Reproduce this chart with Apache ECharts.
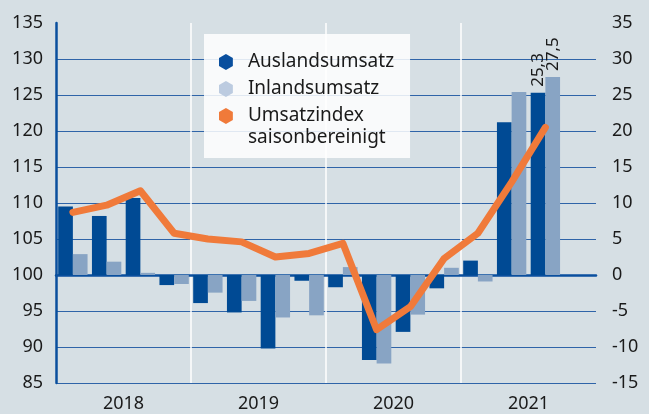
<!DOCTYPE html>
<html>
<head>
<meta charset="utf-8">
<script src="https://cdn.jsdelivr.net/npm/echarts@6/dist/echarts.min.js"></script>
<style>
  html, body { margin: 0; padding: 0; background: #d6dfe4; }
  #chart { width: 649px; height: 414px; }
</style>
</head>
<body>
<div id="chart"></div>
<script>
  // quarters 2018 Q1 .. 2021 Q4 (last slot empty)
  const quarters = ['Q1 2018', 'Q2 2018', 'Q3 2018', 'Q4 2018',
    'Q1 2019', 'Q2 2019', 'Q3 2019', 'Q4 2019',
    'Q1 2020', 'Q2 2020', 'Q3 2020', 'Q4 2020',
    'Q1 2021', 'Q2 2021', 'Q3 2021', 'Q4 2021']
  const years = ['2018', '2019', '2020', '2021']

  // Veraenderung zum Vorjahr in % (rechte Achse)
  const auslandsumsatz = [9.5, 8.2, 10.7, -1.4, -3.9, -5.2, -10.2, -0.8, -1.7, -11.8, -7.9, -1.85, 2.0, 21.2, 25.3]
  const inlandsumsatz = [2.9, 1.85, 0.3, -1.25, -2.45, -3.6, -5.9, -5.6, 1.1, -12.3, -5.5, 1.0, -0.9, 25.4, 27.5]
  // Index (linke Achse)
  const umsatzindex = [108.7, 109.7, 111.7, 105.8, 105.0, 104.6, 102.5, 103.0, 104.4, 92.4, 95.6, 102.3, 105.8, 112.9, 120.5]

  const labelled = [14] // bars with rotated value label

  const hexagon = 'path://M50,0 L93.3,25 L93.3,75 L50,100 L6.7,75 L6.7,25 Z'
  const font = 'Noto Sans'
  const textColor = '#1a1a1a'
  const gridBlue = '#2f64a8'

  function barData (values) {
    return values.map(function (v, i) {
      if (labelled.indexOf(i) < 0) return v
      return {
        value: v,
        label: {
          show: true,
          position: 'top',
          rotate: 90,
          align: 'left',
          verticalAlign: 'middle',
          distance: 6,
          fontFamily: font,
          fontSize: 17,
          color: textColor,
          formatter: function (p) { return String(p.value).replace('.', ',') }
        }
      }
    })
  }

  const chart = echarts.init(document.getElementById('chart'))
  chart.setOption({
    backgroundColor: '#d6dfe4',
    animation: false,
    textStyle: { fontFamily: font },
    grid: { left: 56, right: 53, top: 23, bottom: 31 },
    legend: {
      orient: 'vertical',
      left: 204,
      top: 34,
      padding: [17, 16, 31, 15],
      backgroundColor: 'rgba(255,255,255,0.85)',
      itemWidth: 34,
      itemHeight: 16,
      itemGap: 5,
      selectedMode: false,
      textStyle: { fontFamily: font, fontSize: 19, lineHeight: 22, color: textColor },
      data: [
        { name: 'Auslandsumsatz', icon: hexagon, itemStyle: { color: '#0a4f9e', borderWidth: 0 } },
        { name: 'Inlandsumsatz', icon: hexagon, itemStyle: { color: '#bccbe0', borderWidth: 0 } },
        { name: 'Umsatzindex', icon: hexagon, itemStyle: { color: '#f07a3a', borderWidth: 0 } }
      ]
    },
    graphic: [{
      type: 'text',
      x: 248,
      y: 138,
      z: 100,
      style: {
        text: 'saisonbereinigt',
        fontFamily: font,
        fontSize: 19,
        fill: textColor,
        verticalAlign: 'middle'
      }
    }],
    xAxis: [{
      type: 'category',
      data: quarters,
      position: 'bottom',
      axisLine: { show: true, lineStyle: { color: '#0a4f9e', width: 2.5 } },
      axisTick: { show: false },
      axisLabel: { show: false },
      splitLine: { show: false }
    }, {
      type: 'category',
      data: years,
      position: 'bottom',
      axisLine: { show: false },
      axisTick: { show: false },
      axisLabel: { fontFamily: font, fontSize: 18, color: textColor, margin: 12 },
      splitLine: {
        show: true,
        interval: 0,
        lineStyle: { color: ['rgba(0,0,0,0)', '#ffffff', '#ffffff', '#ffffff', 'rgba(0,0,0,0)'], width: 1.5 }
      }
    }],
    yAxis: [{
      type: 'value',
      min: 85,
      max: 135,
      interval: 5,
      position: 'left',
      axisLine: { show: true, lineStyle: { color: '#0a4f9e', width: 2.5 } },
      axisTick: { show: false },
      axisLabel: { fontFamily: font, fontSize: 18, color: textColor, margin: 13 },
      splitLine: {
        show: true,
        lineStyle: {
          color: [gridBlue, gridBlue, gridBlue, '#8eaacb', gridBlue, gridBlue, gridBlue, gridBlue, gridBlue, gridBlue, 'rgba(0,0,0,0)'],
          width: 1
        }
      }
    }, {
      type: 'value',
      min: -15,
      max: 35,
      interval: 5,
      position: 'right',
      axisLine: { show: false },
      axisTick: { show: false },
      axisLabel: { fontFamily: font, fontSize: 18, color: textColor, margin: 16 },
      splitLine: { show: false }
    }],
    series: [{
      name: 'Auslandsumsatz',
      type: 'bar',
      yAxisIndex: 1,
      barGap: '0%',
      barCategoryGap: '13%',
      itemStyle: { color: '#004a94' },
      data: barData(auslandsumsatz)
    }, {
      name: 'Inlandsumsatz',
      type: 'bar',
      yAxisIndex: 1,
      itemStyle: { color: '#88a4c4' },
      data: barData(inlandsumsatz)
    }, {
      name: 'Umsatzindex',
      type: 'line',
      yAxisIndex: 0,
      symbol: 'none',
      z: 5,
      itemStyle: { color: '#f07a3a' },
      lineStyle: { color: '#f07a3a', width: 7, cap: 'round', join: 'round' },
      data: umsatzindex
    }]
  })
</script>
</body>
</html>
